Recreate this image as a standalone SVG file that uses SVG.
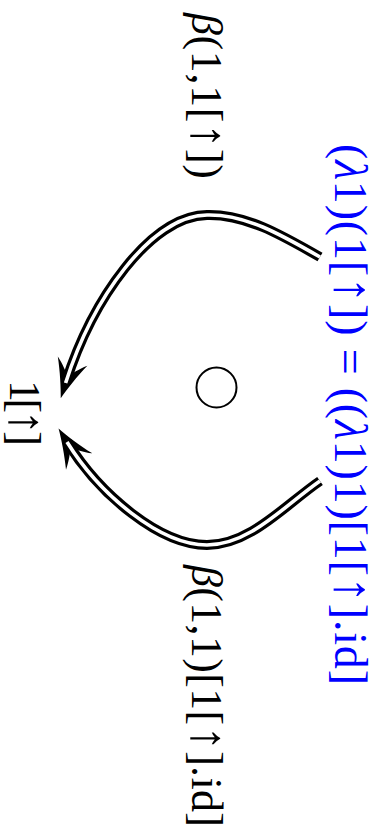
<svg xmlns="http://www.w3.org/2000/svg" width="381" height="834" viewBox="0 0 381 834">
<style>
.lbl{font-family:"Liberation Serif","DejaVu Serif",serif;font-size:44px;fill:#000}
.blue{fill:#0000ff;font-size:46px}
.it{font-style:italic}
.ar{font-size:1.15em}
.outer{fill:none;stroke:#000;stroke-width:10}
.inner{fill:none;stroke:#fff;stroke-width:3.6}
</style>
<defs>
<marker id="head" markerUnits="userSpaceOnUse" markerWidth="60" markerHeight="40" viewBox="-30 -20 60 40" refX="0" refY="0" orient="auto" overflow="visible">
<path d="M16,0 C6,-3 -10,-9 -23,-15.5 C-17,-8 -11,-3.5 -7,0 C-11,3.5 -17,8 -23,15.5 C-10,9 6,3 16,0 Z" fill="#000"/>
</marker>
</defs>
<rect width="381" height="834" fill="#fff"/>
<g id="connectors">
<g id="arrow-upper">
<path class="outer" marker-end="url(#head)" d="M320,257 C280,234 245,214 207,215 C150,216 92,300 65.6,383"/>
<path class="inner" d="M320,257 C280,234 245,214 207,215 C150,216 92,300 65.6,383"/>
</g>
<g id="arrow-lower">
<path class="outer" marker-end="url(#head)" d="M320,481 C285,505 250,545 207,545 C160,545 100,495 67,442"/>
<path class="inner" d="M320,481 C285,505 250,545 207,545 C160,545 100,495 67,442"/>
</g>
</g>
<g id="node-target">
<text class="lbl" transform="translate(10,380) rotate(90)" textLength="66" lengthAdjust="spacing">1[<tspan class="ar">↑</tspan>]</text>
</g>
<g id="label-upper">
<text class="lbl" transform="translate(192,13) rotate(90)" textLength="166" lengthAdjust="spacing"><tspan class="it">β</tspan>(1,1[<tspan class="ar">↑</tspan>])</text>
</g>
<g id="label-lower">
<text class="lbl" transform="translate(192,565) rotate(90)" textLength="262" lengthAdjust="spacing"><tspan class="it">β</tspan>(1,1)[1[<tspan class="ar">↑</tspan>].id]</text>
</g>
<g id="label-2cell">
<circle cx="216.5" cy="387.5" r="20" fill="none" stroke="#000" stroke-width="2"/>
<text class="lbl blue" transform="translate(335,144) rotate(90)" textLength="541" lengthAdjust="spacing">(<tspan class="it">λ</tspan>1)(1[<tspan class="ar">↑</tspan>]) = ((<tspan class="it">λ</tspan>1)1)[1[<tspan class="ar">↑</tspan>].id]</text>
</g>
</svg>
